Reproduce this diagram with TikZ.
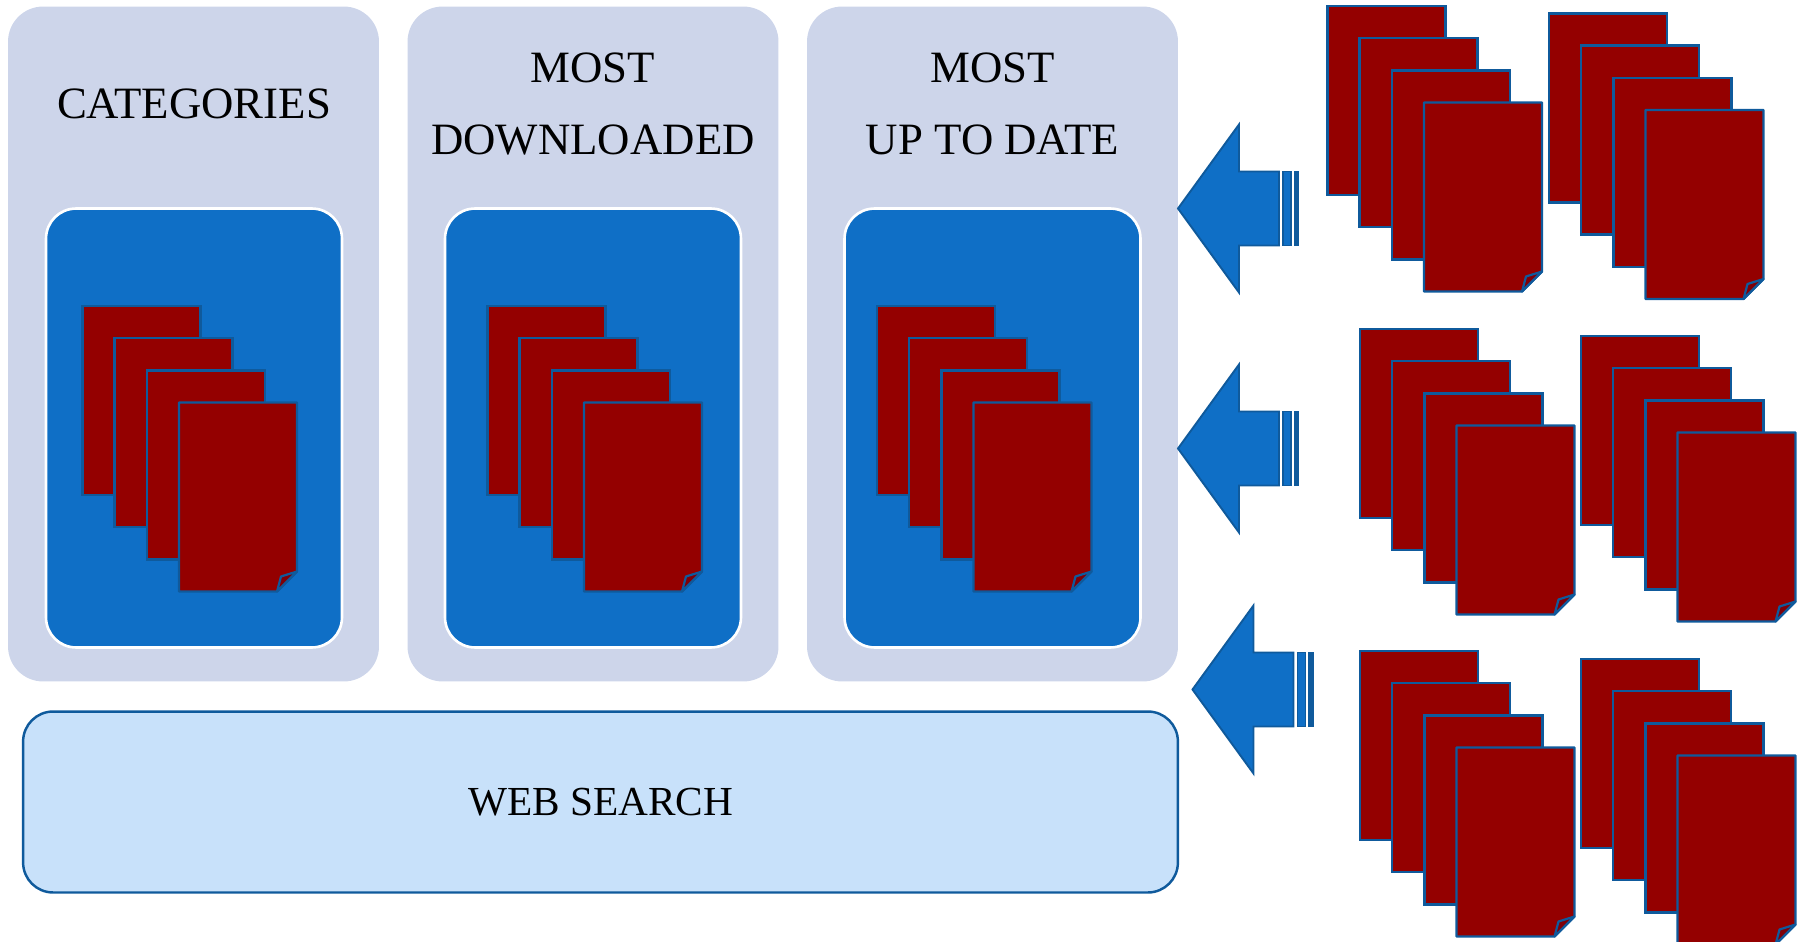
\documentclass[tikz,border=0pt]{standalone}
\usepackage{fontspec}
\setmainfont{Liberation Serif}
\usepackage{tikz}
\usetikzlibrary{positioning,calc}
\definecolor{panelgray}{HTML}{CDD5EA}
\definecolor{boxblue}{HTML}{0F6FC6}
\definecolor{edgeblue}{HTML}{0F5A9C}
\definecolor{pagered}{HTML}{940000}
\definecolor{foldred}{HTML}{7E0008}
\definecolor{searchblue}{HTML}{C8E1FA}
\tikzset{
    panel/.style={fill=panelgray, minimum width=7.42cm, minimum height=13.5cm, rounded corners=0.7cm, inner sep=0pt, outer sep=0pt},
    docbox/.style={draw=white, fill=boxblue, line width=1.5pt, minimum width=5.92cm, minimum height=8.78cm, rounded corners=0.6cm, inner sep=0pt, outer sep=0pt},
    searchbox/.style={draw=edgeblue, fill=searchblue, line width=1.4pt, minimum width=23.1cm, minimum height=3.62cm, rounded corners=0.6cm, font=\searchfont},
    title/.style={font=\headfont, align=center, inner sep=0pt},
    pagebox/.style={draw=edgeblue, fill=pagered, line width=1.25pt, anchor=north west, minimum width=2.36cm, minimum height=3.78cm, inner sep=0pt, outer sep=0pt},
    pageline/.style={draw=edgeblue, fill=pagered, line width=1.25pt, line join=round},
    foldline/.style={draw=edgeblue, fill=foldred, line width=1.25pt, line join=round},
    arrowline/.style={draw=edgeblue, fill=boxblue, line width=1.1pt, line join=miter},
    docstack/.pic={
        \node[pagebox] (-a) at (0,0) {};
        \node[pagebox] (-b) at (32,32) {};
        \node[pagebox] (-c) at (64.5,64.5) {};
        % Front page with the turned corner
        \draw[pageline] (96.5,96.5) -- (214.5,96.5) -- (214.5,265.5) -- (194.5,285.5) -- (96.5,285.5) -- cycle;
        \draw[foldline] (194.5,285.5) -- (198.5,270.5) -- (214.5,265.5) -- cycle;
    },
    feedarrow/.pic={
        \draw[arrowline] (0,0) -- (61,-84) -- (61,-37) -- (101,-37) -- (101,37) -- (61,37) -- (61,84) -- cycle;
        \draw[arrowline] (105,-37) rectangle (113,37);
        \draw[arrowline, fill=edgeblue] (116.5,-37) rectangle (120.5,37);
    },
}
\newcommand{\headfont}{\fontsize{25.5}{41}\selectfont}
\newcommand{\searchfont}{\fontsize{23.5}{30}\selectfont}

\begin{document}
\begin{tikzpicture}[x=0.02cm, y=-0.02cm]
    \useasboundingbox (0,0) rectangle (1804,942);

    % Three panels
    \node[panel] (panelCat) at (193.5,344) {};
    \node[panel] (panelDown) at (593,344) {};
    \node[panel] (panelDate) at (992.5,344) {};

    \node[title] (titleCat) at (194,104) {CATEGORIES};
    \node[title] (titleDown) at (593,104) {MOST\\DOWNLOADED};
    \node[title] (titleDate) at (992.5,104) {MOST\\UP TO DATE};

    \node[docbox] (boxCat) at (194,428) {};
    \node[docbox] (boxDown) at (593,428) {};
    \node[docbox] (boxDate) at (992.5,428) {};

    % Documents inside the panels
    \pic (stackCat) at (82.5,306) {docstack};
    \pic (stackDown) at (487.5,306) {docstack};
    \pic (stackDate) at (877,306) {docstack};

    % Search bar
    \node[searchbox] (search) at (600.5,802) {WEB SEARCH};

    % Arrows
    \pic (arrowTop) at (1178,208.5) {feedarrow};
    \pic (arrowMid) at (1178,448.5) {feedarrow};
    \pic (arrowLow) at (1192.5,689.5) {feedarrow};

    % Documents on the right
    \pic (stackTopL) at (1327.5,6) {docstack};
    \pic (stackTopR) at (1549,13.5) {docstack};
    \pic (stackMidL) at (1360,329) {docstack};
    \pic (stackMidR) at (1581,336) {docstack};
    \pic (stackLowL) at (1360,651) {docstack};
    \pic (stackLowR) at (1581,659) {docstack};
\end{tikzpicture}
\end{document}
